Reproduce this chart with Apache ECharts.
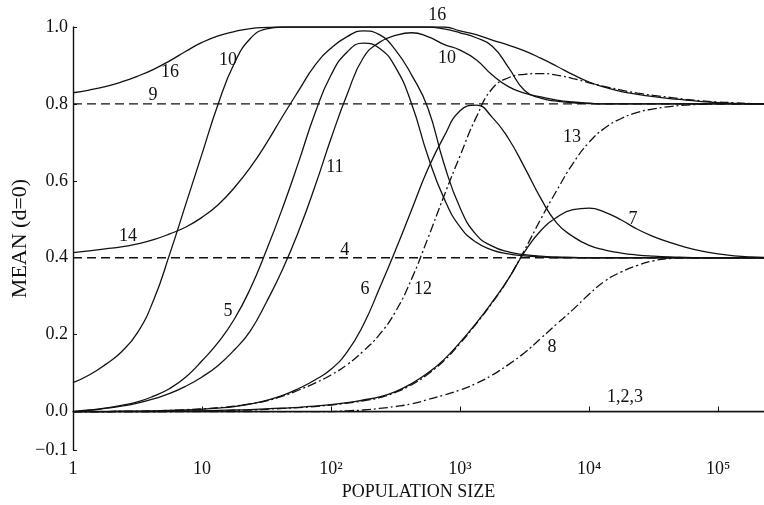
<!DOCTYPE html>
<html>
<head>
<meta charset="utf-8">
<script src="https://cdn.jsdelivr.net/npm/echarts@6/dist/echarts.min.js"></script>
<style>
  html, body { margin: 0; padding: 0; background: #fff; }
  #chart { width: 764px; height: 505px; }
</style>
</head>
<body>
<div id="chart"></div>
<script>
// Population sizes, eighth-decade steps from 1 up to the right edge of the axis
const popSize = [1, 1.334, 1.778, 2.371, 3.162, 4.217, 5.623, 7.499, 10, 13.34, 17.78, 23.71,
  31.62, 42.17, 56.23, 74.99, 100, 133.4, 177.8, 237.1, 316.2, 421.7, 562.3, 749.9,
  1000, 1334, 1778, 2371, 3162, 4217, 5623, 7499, 10000, 13335, 17783, 23714,
  31623, 42170, 56234, 74989, 100000, 133352, 177828, 227000];

// Mean (d=0) of each numbered case at the population sizes above
const curve123 = [0, 0, 0, 0, 0, 0, 0, 0, 0, 0, 0, 0, 0, 0, 0, 0, 0, 0, 0, 0, 0, 0,
  0, 0, 0, 0, 0, 0, 0, 0, 0, 0, 0, 0, 0, 0, 0, 0, 0, 0, 0, 0, 0, 0];
const curve4 = [0.4, 0.4, 0.4, 0.4, 0.4, 0.4, 0.4, 0.4, 0.4, 0.4, 0.4, 0.4, 0.4, 0.4, 0.4, 0.4, 0.4, 0.4, 0.4, 0.4, 0.4, 0.4,
  0.4, 0.4, 0.4, 0.4, 0.4, 0.4, 0.4, 0.4, 0.4, 0.4, 0.4, 0.4, 0.4, 0.4, 0.4, 0.4, 0.4, 0.4, 0.4, 0.4, 0.4, 0.4];
const curve9 = [0.8, 0.8, 0.8, 0.8, 0.8, 0.8, 0.8, 0.8, 0.8, 0.8, 0.8, 0.8, 0.8, 0.8, 0.8, 0.8, 0.8, 0.8, 0.8, 0.8, 0.8, 0.8,
  0.8, 0.8, 0.8, 0.8, 0.8, 0.8, 0.8, 0.8, 0.8, 0.8, 0.8, 0.8, 0.8, 0.8, 0.8, 0.8, 0.8, 0.8, 0.8, 0.8, 0.8, 0.8];
const curve16 = [0.829, 0.836, 0.845, 0.857, 0.872, 0.89, 0.912, 0.937, 0.96, 0.977, 0.988, 0.996, 0.999, 1.0,
  1.0, 1.0, 1.0, 1.0, 1.0, 1.0, 1.0, 1.0, 1.0, 1.0, 0.99, 0.98, 0.966, 0.953, 0.938, 0.919, 0.898, 0.876,
  0.857, 0.843, 0.832, 0.825, 0.819, 0.814, 0.81, 0.806, 0.803, 0.801, 0.8, 0.8];
const curve10 = [0.075, 0.095, 0.122, 0.155, 0.205, 0.29, 0.41, 0.54, 0.67, 0.8, 0.905, 0.97, 0.995, 1.0,
  1.0, 1.0, 1.0, 1.0, 1.0, 1.0, 1.0, 1.0, 1.0, 0.995, 0.985, 0.972, 0.95, 0.895, 0.835, 0.815, 0.807, 0.803,
  0.801, 0.8, 0.8, 0.8, 0.8, 0.8, 0.8, 0.8, 0.8, 0.8, 0.8, 0.8];
const curve11 = [0.0, 0.003, 0.008, 0.014, 0.022, 0.033, 0.047, 0.066, 0.09, 0.12, 0.16, 0.21, 0.285, 0.37,
  0.47, 0.585, 0.71, 0.825, 0.92, 0.96, 0.978, 0.985, 0.975, 0.955, 0.94, 0.915, 0.875, 0.845, 0.828, 0.818,
  0.81, 0.805, 0.802, 0.8, 0.8, 0.8, 0.8, 0.8, 0.8, 0.8, 0.8, 0.8, 0.8, 0.8];
const curve14 = [0.413, 0.418, 0.423, 0.428, 0.436, 0.447, 0.462, 0.48, 0.505, 0.538, 0.582, 0.635, 0.698, 0.768,
  0.835, 0.9, 0.945, 0.975, 0.99, 0.98, 0.94, 0.875, 0.79, 0.645, 0.53, 0.46, 0.43, 0.415, 0.408, 0.404,
  0.402, 0.401, 0.4, 0.4, 0.4, 0.4, 0.4, 0.4, 0.4, 0.4, 0.4, 0.4, 0.4, 0.4];
const curve5 = [0.0, 0.004, 0.009, 0.016, 0.025, 0.04, 0.06, 0.09, 0.132, 0.18, 0.24, 0.32, 0.42, 0.53,
  0.65, 0.775, 0.875, 0.935, 0.958, 0.945, 0.895, 0.8, 0.665, 0.555, 0.48, 0.44, 0.42, 0.41, 0.405, 0.402,
  0.4, 0.4, 0.4, 0.4, 0.4, 0.4, 0.4, 0.4, 0.4, 0.4, 0.4, 0.4, 0.4, 0.4];
const curve6 = [0.0, 0.0, 0.0, 0.001, 0.001, 0.002, 0.003, 0.004, 0.006, 0.009, 0.013, 0.02, 0.029, 0.042,
  0.06, 0.082, 0.11, 0.155, 0.225, 0.32, 0.42, 0.525, 0.63, 0.715, 0.782, 0.797, 0.765, 0.71, 0.635, 0.555,
  0.49, 0.455, 0.432, 0.42, 0.412, 0.407, 0.404, 0.402, 0.401, 0.4, 0.4, 0.4, 0.4, 0.4];
const curve12 = [0.0, 0.0, 0.0, 0.001, 0.001, 0.002, 0.003, 0.005, 0.007, 0.01, 0.014, 0.02, 0.028, 0.04,
  0.056, 0.074, 0.095, 0.122, 0.157, 0.2, 0.26, 0.345, 0.45, 0.56, 0.665, 0.765, 0.84, 0.868, 0.877, 0.879,
  0.875, 0.866, 0.855, 0.845, 0.836, 0.828, 0.822, 0.817, 0.812, 0.808, 0.805, 0.803, 0.801, 0.8];
const curve7 = [0.0, 0.0, 0.0, 0.0, 0.0, 0.0, 0.001, 0.001, 0.002, 0.003, 0.004, 0.005, 0.007, 0.009,
  0.011, 0.014, 0.018, 0.023, 0.03, 0.038, 0.052, 0.073, 0.1, 0.135, 0.18, 0.23, 0.285, 0.345, 0.415, 0.47,
  0.505, 0.525, 0.529, 0.518, 0.498, 0.474, 0.455, 0.44, 0.427, 0.417, 0.41, 0.405, 0.402, 0.401];
const curve13 = [0.0, 0.0, 0.0, 0.0, 0.0, 0.0, 0.0, 0.001, 0.001, 0.002, 0.003, 0.004, 0.006, 0.008,
  0.01, 0.013, 0.017, 0.022, 0.028, 0.036, 0.05, 0.07, 0.097, 0.132, 0.177, 0.228, 0.283, 0.345, 0.42, 0.5,
  0.575, 0.645, 0.7, 0.738, 0.762, 0.778, 0.787, 0.793, 0.797, 0.799, 0.8, 0.8, 0.8, 0.8];
const curve8 = [0.0, 0.0, 0.0, 0.0, 0.0, 0.0, 0.0, 0.0, 0.0, 0.0, 0.0, 0.0, 0.0, 0.0,
  0.0, 0.0, 0.0, 0.002, 0.004, 0.008, 0.013, 0.02, 0.031, 0.043, 0.056, 0.073, 0.095, 0.122, 0.153, 0.19,
  0.228, 0.265, 0.305, 0.34, 0.363, 0.38, 0.392, 0.398, 0.4, 0.4, 0.4, 0.4, 0.4, 0.4];

// Curve numbers written beside the lines: [population size, mean, text]
const curveTags = [
  [5.65, 0.883, '16'], [15.9, 0.914, '10'], [4.17, 0.823, '9'], [2.67, 0.455, '14'],
  [15.9, 0.26, '5'], [107, 0.636, '11'], [128, 0.42, '4'], [183, 0.317, '6'],
  [517, 0.317, '12'], [665, 1.031, '16'], [794, 0.919, '10'], [7370, 0.714, '13'],
  [21900, 0.499, '7'], [5170, 0.166, '8'], [19000, 0.036, '1,2,3']
];

// Axis tick labels
const xTickText = { 1: '1', 10: '10', 100: '10²', 1000: '10³', 10000: '10⁴', 100000: '10⁵' };
const yTickValues = [-0.1, 0.0, 0.2, 0.4, 0.6, 0.8, 1.0];

const SERIF = 'Liberation Serif';
const INK = '#111';
const SOLID = 'solid';
const DASHED = [9, 5];
const DASHDOT = [9, 3, 2, 3];

function curve(name, values, dash) {
  return {
    name: name,
    type: 'line',
    data: popSize.map((n, i) => [n, values[i]]),
    showSymbol: false,
    smooth: dash === DASHED ? false : 0.5,
    smoothConstraint: false,
    silent: true,
    lineStyle: { color: INK, width: 1.3, type: dash },
    z: 2
  };
}

const chart = echarts.init(document.getElementById('chart'), null, { renderer: 'canvas' });

chart.setOption({
  animation: false,
  backgroundColor: '#fff',
  textStyle: { fontFamily: SERIF, color: INK },
  grid: { left: 73, right: 0, top: 27, bottom: 55, containLabel: false, outerBoundsMode: 'none' },
  xAxis: {
    type: 'log',
    logBase: 10,
    min: 1,
    max: 227000,
    name: 'POPULATION SIZE',
    nameLocation: 'middle',
    nameGap: 33,
    nameMoveOverlap: false,
    nameTextStyle: { fontFamily: SERIF, fontSize: 18, color: INK },
    axisLine: { lineStyle: { color: INK, width: 1.4 } },
    axisTick: { inside: true, length: 5, lineStyle: { color: INK, width: 1 } },
    minorTick: { show: false },
    splitLine: { show: false },
    axisLabel: {
      fontFamily: SERIF, fontSize: 18, color: INK, margin: 10,
      showMaxLabel: false,
      formatter: v => xTickText[Math.round(v)] || ''
    }
  },
  yAxis: {
    type: 'value',
    min: -0.1,
    max: 1.0,
    name: 'MEAN (d=0)',
    nameLocation: 'middle',
    nameGap: 42,
    nameMoveOverlap: false,
    nameRotate: 90,
    nameTextStyle: { fontFamily: SERIF, fontSize: 22, color: INK },
    axisLine: { show: true, lineStyle: { color: INK, width: 1.4 } },
    axisTick: { show: true, inside: true, length: 4, customValues: yTickValues, lineStyle: { color: INK, width: 1 } },
    splitLine: { show: false },
    axisLabel: {
      fontFamily: SERIF, fontSize: 18, color: INK, margin: 5,
      customValues: yTickValues,
      formatter: v => (v < 0 ? '\u2212' + Math.abs(v).toFixed(1) : v.toFixed(1))
    }
  },
  series: [
    curve('1,2,3', curve123, SOLID),
    curve('4', curve4, DASHED),
    curve('9', curve9, DASHED),
    curve('16', curve16, SOLID),
    curve('10', curve10, SOLID),
    curve('14', curve14, SOLID),
    curve('5', curve5, SOLID),
    curve('11', curve11, SOLID),
    curve('6', curve6, SOLID),
    curve('12', curve12, DASHDOT),
    curve('7', curve7, SOLID),
    curve('13', curve13, DASHDOT),
    curve('8', curve8, DASHDOT),
    {
      name: 'tags',
      type: 'scatter',
      symbolSize: 0,
      clip: false,
      silent: true,
      itemStyle: { color: 'rgba(0,0,0,0)', opacity: 1 },
      data: curveTags.map(t => ({ value: [t[0], t[1]], name: t[2] })),
      label: {
        show: true,
        position: [0, 0],
        align: 'center',
        verticalAlign: 'middle',
        formatter: p => p.name,
        fontFamily: SERIF,
        fontSize: 18,
        color: INK,
        opacity: 1,
        textBorderWidth: 0
      },
      z: 5
    }
  ]
});
</script>
</body>
</html>
